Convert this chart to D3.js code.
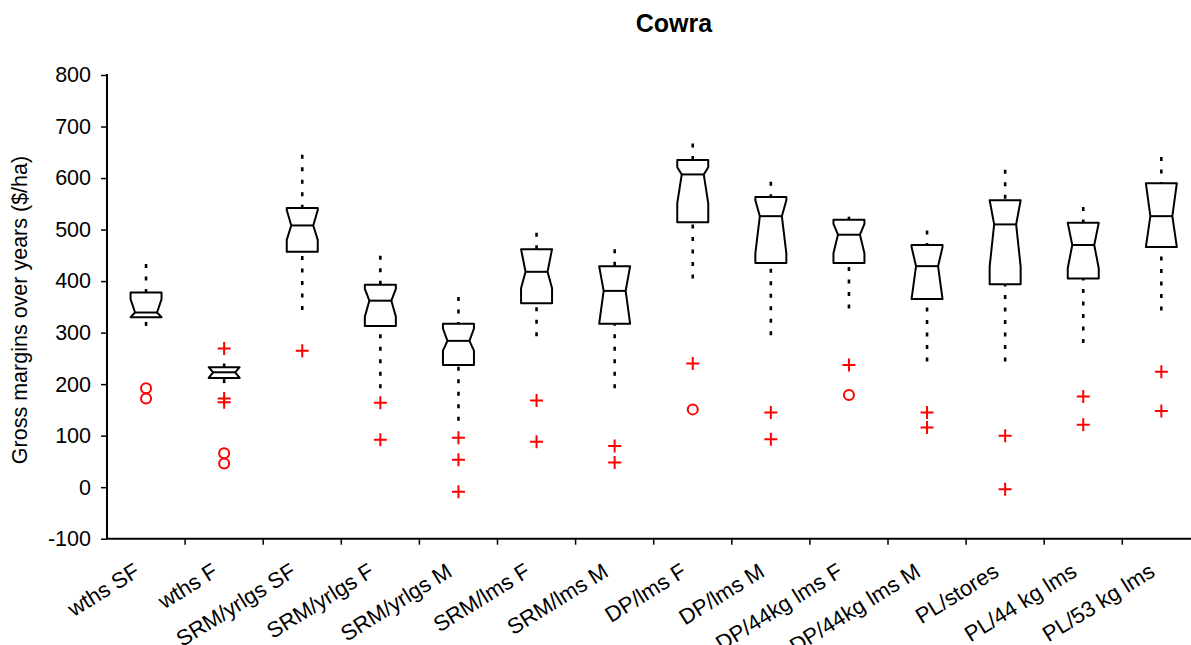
<!DOCTYPE html>
<html>
<head>
<meta charset="utf-8">
<script src="https://cdn.jsdelivr.net/npm/d3@7"></script>
<style>
  body { margin: 0; background: #fff; }
  svg { display: block; font-family: "Liberation Sans", Arial, sans-serif; }
</style>
</head>
<body>
<div id="container"></div>
<script>
const categories = ["wths SF", "wths F", "SRM/yrlgs SF", "SRM/yrlgs F", "SRM/yrlgs M", "SRM/lms F", "SRM/lms M",
                    "DP/lms F", "DP/lms M", "DP/44kg lms F", "DP/44kg lms M", "PL/stores", "PL/44 kg lms", "PL/53 kg lms"];
const whiskerHi = [433, 240, 645, 449, 369, 494, 462, 667, 593, 525, 498, 616, 544, 641];
const q3 =        [378, 233, 542, 393, 317, 462, 429, 635, 563, 519, 470, 557, 513, 590];
const notchHi =   [365, 233, 538, 385, 308, 462, 429, 621, 557, 511, 466, 557, 513, 590];
const median =    [339, 223, 508, 362, 284, 418, 381, 607, 526, 490, 429, 510, 470, 526];
const notchLo =   [330, 212, 480, 331, 265, 386, 317, 551, 454, 454, 365, 428, 425, 466];
const q1 =        [330, 212, 457, 313, 237, 357, 317, 514, 435, 435, 365, 394, 405, 466];
const whiskerLo = [313, 202, 344, 192, 129, 293, 192, 405, 295, 347, 244, 244, 280, 343];
const plusOutliers = [[], [269, 172, 165], [265], [164, 92], [96, 53, -9], [168, 88], [80, 48],
                      [240], [145, 93], [237], [145, 116], [100, -4], [176, 121], [224, 148]];
const circleOutliers = [[192, 172], [66, 46], [], [], [], [], [], [151], [], [179], [], [], [], []];
const yTicks = [-100, 0, 100, 200, 300, 400, 500, 600, 700, 800];

const width = 1191;
const height = 645;
const margin = {left: 107, top: 75, bottom: 538.7};
const bandWidth = 78.1;
const boxHalf = 15.5;
const notchHalf = 11;

const svg = d3.select("#container")
              .append("svg")
              .attr("width", width)
              .attr("height", height);

const x = d3.scaleBand()
            .domain(categories)
            .range([margin.left, margin.left + bandWidth * categories.length]);
const y = d3.scaleLinear()
            .domain([-100, 800])
            .range([margin.bottom, margin.top]);

// y axis
const yAxis = svg.append("g")
                 .attr("transform", "translate(" + margin.left + ",0)")
                 .call(d3.axisLeft(y).tickValues(yTicks).tickSize(6).tickPadding(10).tickFormat(d3.format("d")));
yAxis.select(".domain").attr("stroke-width", 2).attr("d", "M0," + (margin.top - 1) + "V" + margin.bottom);
yAxis.selectAll(".tick line").attr("stroke-width", 1.5);
yAxis.selectAll(".tick text")
     .attr("font-size", 21.5)
     .attr("font-family", "Liberation Sans, Arial, sans-serif")
     .attr("fill", "#000")
     .text(d => d < 0 ? "-" + Math.abs(d) : d);

// x axis, ticks at the band edges
const xAxis = svg.append("g")
                 .attr("transform", "translate(0," + margin.bottom + ")");
xAxis.append("line")
     .attr("x1", margin.left)
     .attr("x2", width)
     .attr("stroke", "#000")
     .attr("stroke-width", 2);
xAxis.selectAll(".xtick")
     .data(categories.slice(1))
     .enter()
     .append("line")
     .attr("class", "xtick")
     .attr("x1", d => x(d))
     .attr("x2", d => x(d))
     .attr("y1", 0)
     .attr("y2", 6)
     .attr("stroke", "#000")
     .attr("stroke-width", 1.5);
xAxis.selectAll(".xlabel")
     .data(categories)
     .enter()
     .append("text")
     .attr("class", "xlabel")
     .attr("transform", d => "translate(" + (x(d) + x.bandwidth() / 2 - 9) + ",30) rotate(-32)")
     .attr("text-anchor", "end")
     .attr("dy", "0.35em")
     .attr("font-size", 22)
     .attr("fill", "#000")
     .text(d => d);

// boxes
const boxes = svg.append("g")
                 .selectAll(".box")
                 .data(categories)
                 .enter()
                 .append("g")
                 .attr("class", "box")
                 .attr("transform", d => "translate(" + (x(d) + x.bandwidth() / 2) + ",0)");

const boxPath = (d, i) => {
  const p = [
    [-boxHalf, y(q3[i])], [-boxHalf, y(notchHi[i])], [-notchHalf, y(median[i])],
    [-boxHalf, y(notchLo[i])], [-boxHalf, y(q1[i])], [boxHalf, y(q1[i])],
    [boxHalf, y(notchLo[i])], [notchHalf, y(median[i])], [boxHalf, y(notchHi[i])],
    [boxHalf, y(q3[i])]
  ];
  return d3.line()(p) + "Z";
};

boxes.append("line")
     .attr("y1", (d, i) => y(whiskerHi[i]))
     .attr("y2", (d, i) => y(q3[i]))
     .attr("stroke", "#000")
     .attr("stroke-width", 2.6)
     .attr("stroke-dasharray", "4,8.5");
boxes.append("line")
     .attr("y1", (d, i) => y(whiskerLo[i]))
     .attr("y2", (d, i) => y(q1[i]))
     .attr("stroke", "#000")
     .attr("stroke-width", 2.6)
     .attr("stroke-dasharray", "4,8.5");
boxes.append("path")
     .attr("d", boxPath)
     .attr("fill", "#fff")
     .attr("stroke", "#000")
     .attr("stroke-width", 2)
     .attr("stroke-linejoin", "round");
boxes.append("line")
     .attr("x1", -notchHalf)
     .attr("x2", notchHalf)
     .attr("y1", (d, i) => y(median[i]))
     .attr("y2", (d, i) => y(median[i]))
     .attr("stroke", "#000")
     .attr("stroke-width", 2);

// outliers
boxes.selectAll(".plus")
     .data((d, i) => plusOutliers[i])
     .enter()
     .append("path")
     .attr("class", "plus")
     .attr("d", v => "M-6.5," + y(v) + "H6.5M0," + (y(v) - 6.5) + "V" + (y(v) + 6.5))
     .attr("stroke", "#ff0000")
     .attr("stroke-width", 2);
boxes.selectAll(".circ")
     .data((d, i) => circleOutliers[i])
     .enter()
     .append("circle")
     .attr("class", "circ")
     .attr("cy", v => y(v))
     .attr("r", 5)
     .attr("fill", "none")
     .attr("stroke", "#ff0000")
     .attr("stroke-width", 2);

// titles
svg.append("text")
   .attr("x", 674)
   .attr("y", 32)
   .attr("text-anchor", "middle")
   .attr("font-size", 25)
   .attr("font-weight", "bold")
   .text("Cowra");
svg.append("text")
   .attr("transform", "translate(27,310) rotate(-90)")
   .attr("text-anchor", "middle")
   .attr("font-size", 21.5)
   .text("Gross margins over years ($/ha)");
</script>
</body>
</html>
